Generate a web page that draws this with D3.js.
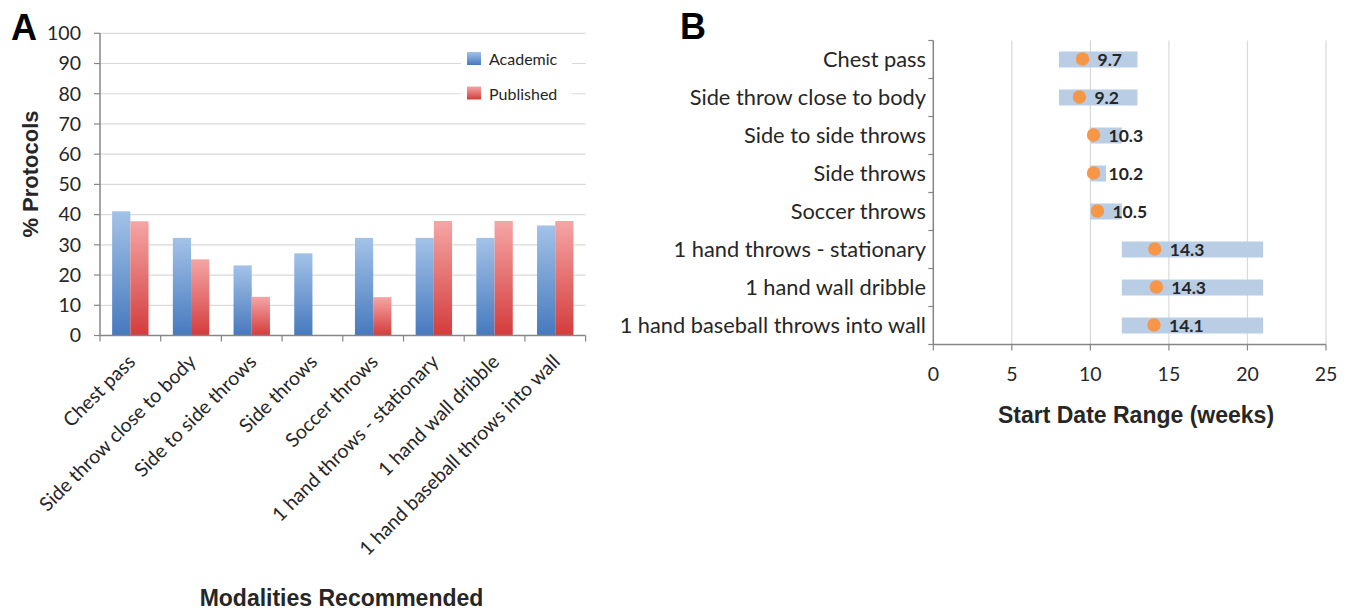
<!DOCTYPE html>
<html>
<head>
<meta charset="utf-8">
<script src="https://cdn.jsdelivr.net/npm/d3@7"></script>
<style>
  html, body { margin: 0; padding: 0; background: #fff; }
  svg { display: block; }
  .calib { font-family: Lato, "Open Sans", sans-serif; }
  .arialb { font-family: "Liberation Sans", Arial, sans-serif; font-weight: bold; }
</style>
</head>
<body>
<svg id="chart" width="1348" height="611"></svg>
<script>
// ---------- Data ----------
const categories = ["Chest pass", "Side throw close to body", "Side to side throws", "Side throws",
  "Soccer throws", "1 hand throws - stationary", "1 hand wall dribble", "1 hand baseball throws into wall"];
const seriesNames = ["Academic", "Published"];
const academic = [41.1, 32.3, 23.2, 27.2, 32.3, 32.3, 32.3, 36.4];
const published = [37.8, 25.2, 12.8, 0, 12.7, 37.9, 37.9, 37.9];
const yTicksA = [0, 10, 20, 30, 40, 50, 60, 70, 80, 90, 100];

const rangeStart = [8, 8, 10, 10, 10, 12, 12, 12];
const rangeEnd = [13, 13, 12, 11, 12, 21, 21, 21];
const meanWeeks = [9.5, 9.3, 10.2, 10.2, 10.45, 14.1, 14.2, 14.05];
const meanLabels = ["9.7", "9.2", "10.3", "10.2", "10.5", "14.3", "14.3", "14.1"];
const xTicksB = [0, 5, 10, 15, 20, 25];

// ---------- Setup ----------
const svg = d3.select("#chart");
const axisColor = "#868686";
const gridColor = "#d9d9d9";
const textColor = "#262626";

// gradients
const defs = svg.append("defs");
function grad(id, top, bottom) {
  const g = defs.append("linearGradient").attr("id", id).attr("x1", 0).attr("y1", 0).attr("x2", 0).attr("y2", 1);
  g.append("stop").attr("offset", "0%").attr("stop-color", top);
  g.append("stop").attr("offset", "100%").attr("stop-color", bottom);
}
grad("gBlue", "#a3c2e8", "#4679bd");
grad("gRed", "#f5a5a5", "#d43c3c");

// ---------- Panel A ----------
const xA = d3.scaleBand().domain(categories).range([100, 585.6]).padding(0);
const yA = d3.scaleLinear().domain([0, 100]).range([335.5, 33.3]);
const gA = svg.append("g");

// gridlines
gA.selectAll(".gridA").data(yTicksA.filter(d => d > 0)).join("line")
  .attr("x1", xA.range()[0]).attr("x2", xA.range()[1])
  .attr("y1", d => yA(d)).attr("y2", d => yA(d))
  .attr("stroke", gridColor).attr("stroke-width", 1.2);

// legend background (covers gridlines)
gA.append("rect").attr("x", 461).attr("y", 44).attr("width", 111).attr("height", 62).attr("fill", "#fff");

// bars
const bw = xA.bandwidth();
const seriesData = [academic, published];
const fills = ["url(#gBlue)", "url(#gRed)"];
seriesData.forEach((vals, si) => {
  gA.selectAll(".bar" + si).data(categories).join("rect")
    .attr("x", d => xA(d) + bw * (0.2 + 0.3 * si))
    .attr("width", bw * 0.3)
    .attr("y", (d, i) => yA(vals[i]))
    .attr("height", (d, i) => yA(0) - yA(vals[i]))
    .attr("fill", fills[si]);
});

// y axis
gA.append("line").attr("x1", 100).attr("x2", 100).attr("y1", yA(100)).attr("y2", yA(0))
  .attr("stroke", axisColor).attr("stroke-width", 1.5);
gA.selectAll(".ytA").data(yTicksA).join("line")
  .attr("x1", 94).attr("x2", 100).attr("y1", d => yA(d)).attr("y2", d => yA(d))
  .attr("stroke", axisColor).attr("stroke-width", 1.2);
gA.selectAll(".ylA").data(yTicksA).join("text").attr("class", "calib")
  .attr("x", 81).attr("y", d => yA(d)).attr("dy", "0.35em")
  .attr("text-anchor", "end").attr("font-size", 19.5).attr("fill", textColor)
  .text(d => d);

// x axis
gA.append("line").attr("x1", 100).attr("x2", xA.range()[1]).attr("y1", yA(0)).attr("y2", yA(0))
  .attr("stroke", axisColor).attr("stroke-width", 1.5);
const boundaries = categories.map(c => xA(c)).concat([xA.range()[1]]);
gA.selectAll(".xtA").data(boundaries).join("line")
  .attr("x1", d => d).attr("x2", d => d).attr("y1", yA(0)).attr("y2", yA(0) + 6)
  .attr("stroke", axisColor).attr("stroke-width", 1.2);
gA.selectAll(".xlA").data(categories).join("text").attr("class", "calib")
  .attr("transform", d => `translate(${xA(d) + bw / 2 + 6},${363}) rotate(-45)`)
  .attr("text-anchor", "end").attr("font-size", 19.5).attr("fill", textColor)
  .text(d => d);

// legend
const legY = [58.5, 93];
seriesNames.forEach((n, i) => {
  gA.append("rect").attr("x", 467).attr("y", legY[i] - 6.5).attr("width", 14).attr("height", 13).attr("fill", fills[i]);
  gA.append("text").attr("class", "calib").attr("x", 489).attr("y", legY[i] + 1).attr("dy", "0.35em")
    .attr("font-size", 16).attr("fill", textColor).text(n);
});

// titles
svg.append("text").attr("class", "arialb").attr("x", 11).attr("y", 40).attr("font-size", 36).attr("fill", "#000").text("A");
svg.append("text").attr("class", "arialb").attr("transform", "translate(38,174) rotate(-90)")
  .attr("text-anchor", "middle").attr("font-size", 22).attr("fill", textColor).text("% Protocols");
svg.append("text").attr("class", "arialb").attr("x", 341.5).attr("y", 606)
  .attr("text-anchor", "middle").attr("font-size", 23).attr("fill", textColor).text("Modalities Recommended");

// ---------- Panel B ----------
const xB = d3.scaleLinear().domain([0, 25]).range([933.3, 1326]);
const yB = d3.scaleBand().domain(categories).range([40.5, 344.5]).padding(0);
const gB = svg.append("g");
const rb = yB.bandwidth();

// gridlines
gB.selectAll(".gridB").data(xTicksB.filter(d => d > 0)).join("line")
  .attr("x1", d => xB(d)).attr("x2", d => xB(d)).attr("y1", yB.range()[0]).attr("y2", yB.range()[1])
  .attr("stroke", gridColor).attr("stroke-width", 1.2);

// range bars
gB.selectAll(".rng").data(categories).join("rect")
  .attr("x", (d, i) => xB(rangeStart[i]))
  .attr("width", (d, i) => xB(rangeEnd[i]) - xB(rangeStart[i]))
  .attr("y", d => yB(d) + rb / 2 - 8)
  .attr("height", 16)
  .attr("fill", "#b9cde5");

// dots
gB.selectAll(".dot").data(categories).join("circle")
  .attr("cx", (d, i) => xB(meanWeeks[i]))
  .attr("cy", d => yB(d) + rb / 2 - 0.5)
  .attr("r", 6.7)
  .attr("fill", "#f79646");

// labels
gB.selectAll(".lbl").data(categories).join("text").attr("class", "calib")
  .attr("x", (d, i) => xB(meanWeeks[i]) + 15)
  .attr("y", d => yB(d) + rb / 2).attr("dy", "0.36em")
  .attr("font-size", 17.5).attr("font-weight", "bold").attr("fill", textColor)
  .text((d, i) => meanLabels[i]);

// axes
gB.append("line").attr("x1", xB(0)).attr("x2", xB(0)).attr("y1", yB.range()[0]).attr("y2", yB.range()[1])
  .attr("stroke", axisColor).attr("stroke-width", 1.5);
const rowBounds = categories.map(c => yB(c)).concat([yB.range()[1]]);
gB.selectAll(".ytB").data(rowBounds).join("line")
  .attr("x1", xB(0) - 5).attr("x2", xB(0)).attr("y1", d => d).attr("y2", d => d)
  .attr("stroke", axisColor).attr("stroke-width", 1.2);
gB.selectAll(".ylB").data(categories).join("text").attr("class", "calib")
  .attr("x", 926).attr("y", d => yB(d) + rb / 2).attr("dy", "0.35em")
  .attr("text-anchor", "end").attr("font-size", 21.8).attr("fill", textColor)
  .text(d => d);

gB.append("line").attr("x1", xB(0)).attr("x2", xB(25)).attr("y1", yB.range()[1]).attr("y2", yB.range()[1])
  .attr("stroke", axisColor).attr("stroke-width", 1.5);
gB.selectAll(".xtB").data(xTicksB).join("line")
  .attr("x1", d => xB(d)).attr("x2", d => xB(d)).attr("y1", yB.range()[1]).attr("y2", yB.range()[1] + 6)
  .attr("stroke", axisColor).attr("stroke-width", 1.2);
gB.selectAll(".xlB").data(xTicksB).join("text").attr("class", "calib")
  .attr("x", d => xB(d)).attr("y", 374).attr("dy", "0.35em")
  .attr("text-anchor", "middle").attr("font-size", 19.5).attr("fill", textColor)
  .text(d => d);

svg.append("text").attr("class", "arialb").attr("x", 680).attr("y", 39).attr("font-size", 36).attr("fill", "#000").text("B");
svg.append("text").attr("class", "arialb").attr("x", 1136).attr("y", 423)
  .attr("text-anchor", "middle").attr("font-size", 23).attr("fill", textColor).text("Start Date Range (weeks)");
</script>
</body>
</html>
